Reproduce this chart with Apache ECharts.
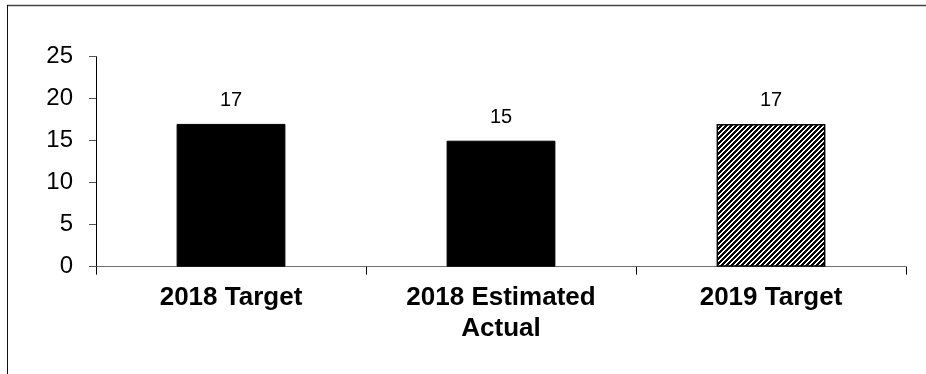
<!DOCTYPE html>
<html>
<head>
<meta charset="utf-8">
<style>
  html, body { margin: 0; padding: 0; background: #fff; }
  #chart { width: 926px; height: 374px; }
</style>
<script src="https://cdn.jsdelivr.net/npm/echarts@6/dist/echarts.min.js"></script>
</head>
<body>
<div id="chart"></div>
<script>
// Categories and values
const categories = ['2018 Target', '2018 Estimated\nActual', '2019 Target'];
const values = [17, 15, 17];
const yTicks = [0, 5, 10, 15, 20, 25];

// Diagonal hatch fill for the projected (2019) bar
function makeHatch() {
  const size = 10, period = 5;
  const c = document.createElement('canvas');
  c.width = size; c.height = size;
  const ctx = c.getContext('2d');
  const img = ctx.createImageData(size, size);
  for (let y = 0; y < size; y++) {
    for (let x = 0; x < size; x++) {
      const dark = ((x + y) % period) < 3;
      const i = (y * size + x) * 4;
      const v = dark ? 0 : 255;
      img.data[i] = v; img.data[i + 1] = v; img.data[i + 2] = v; img.data[i + 3] = 255;
    }
  }
  ctx.putImageData(img, 0, 0);
  return c;
}

const font = '"Liberation Sans", Arial, sans-serif';
const chart = echarts.init(document.getElementById('chart'), null, { renderer: 'canvas' });

const barData = values.map((v, i) => {
  const item = { value: v };
  if (i === 2) {
    item.itemStyle = {
      color: { image: makeHatch(), repeat: 'repeat' },
      borderColor: '#000',
      borderWidth: 1.5
    };
  }
  return item;
});

chart.setOption({
  animation: false,
  backgroundColor: '#fff',
  grid: { left: 96, right: 20, top: 56.7, bottom: 107.3, containLabel: false },
  xAxis: {
    type: 'category',
    data: categories,
    boundaryGap: true,
    axisLine: { show: true, lineStyle: { color: '#6e6e6e', width: 1 } },
    axisTick: { show: true, alignWithLabel: false, length: 8, lineStyle: { color: '#000', width: 1 } },
    axisLabel: {
      interval: 0,
      margin: 16,
      color: '#000',
      fontFamily: font,
      fontWeight: 'bold',
      fontSize: 26,
      lineHeight: 31,
      align: 'center'
    },
    splitLine: { show: false }
  },
  yAxis: {
    type: 'value',
    min: 0,
    max: 25,
    interval: 5,
    axisLine: { show: true, lineStyle: { color: '#000', width: 1 } },
    axisTick: { show: true, inside: false, length: 7, lineStyle: { color: '#555', width: 1 } },
    axisLabel: {
      margin: 23,
      color: '#000',
      fontFamily: font,
      fontSize: 24,
      formatter: v => (yTicks.includes(v) ? String(v) : '')
    },
    splitLine: { show: false }
  },
  series: [{
    type: 'bar',
    data: barData,
    barWidth: '40.3%',
    itemStyle: { color: '#000', borderColor: '#000', borderWidth: 1 },
    label: {
      show: true,
      position: 'top',
      distance: 13,
      color: '#000',
      fontFamily: font,
      fontSize: 20
    }
  }],
  graphic: [
    { type: 'line', shape: { x1: 7, y1: 5.5, x2: 926, y2: 5.5 }, style: { stroke: '#444', lineWidth: 1.5 }, silent: true },
    { type: 'line', shape: { x1: 7.5, y1: 5, x2: 7.5, y2: 374 }, style: { stroke: '#111', lineWidth: 1 }, silent: true }
  ]
});
</script>
</body>
</html>
